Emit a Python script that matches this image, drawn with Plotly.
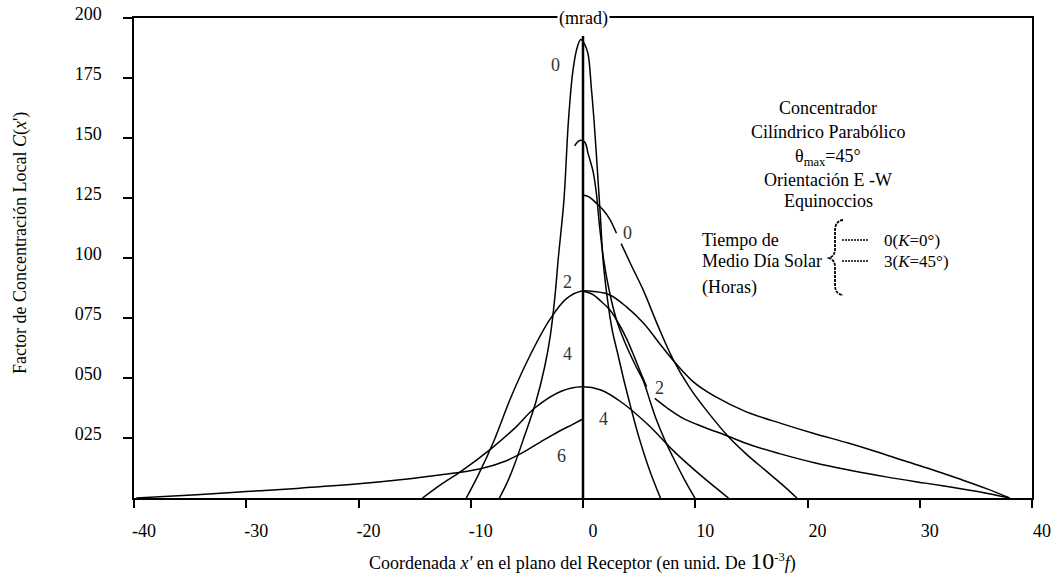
import plotly.graph_objects as go

# ---------------- data ----------------
x_tick_vals = [-40, -30, -20, -10, 0, 10, 20, 30, 40]
x_tick_text = ["-40", "-30", "-20", "-10", "0", "10", "20", "30", "40"]
y_tick_vals = [25, 50, 75, 100, 125, 150, 175, 200]
y_tick_text = ["025", "050", "075", "100", "125", "150", "175", "200"]

# K=0, 0 h (tall peak)
curve_a_x = [-7.45, -6.8, -6.1, -5.2, -4.2, -3.4, -2.9, -2.5, -2.2, -1.7, -1.3, -0.9, -0.5, -0.2,
             0.15, 0.45, 0.74, 0.98, 1.28, 1.57, 1.79, 2.2, 2.6, 3.1, 3.7, 4.3, 5.0, 5.9, 6.9]
curve_a_y = [0, 6, 14, 26, 40, 55, 68, 84, 100, 124, 157, 178, 188, 191,
             189, 185, 171, 157.5, 136.7, 115.8, 99, 82, 70, 60, 48, 37, 25, 12, 0]

# hooked curve peaking at ~149
curve_b_x = [-0.75, -0.45, -0.1, 0.2, 0.45, 0.9, 1.19, 1.48, 1.85, 2.4, 3.0, 3.9, 4.7, 5.36,
             6.0, 6.55, 7.3, 8.0, 9.0, 9.97]
curve_b_y = [146.7, 148.5, 149, 148, 143.6, 136, 127, 113, 99, 85, 74, 63, 55, 49,
             40, 32.5, 24, 17.2, 8, 0]

# right-hand curve starting at ~126 (label "0"), split by the label
curve_c1_x = [0, 0.6, 1.19, 1.8, 2.38, 2.98]
curve_c1_y = [126.25, 125.3, 122.8, 120.0, 116.2, 110.3]
curve_c2_x = [3.4, 4.3, 5.36, 6.7, 8.0, 9.5, 11.0, 12.96, 14.5, 16.2, 17.7, 19.06]
curve_c2_y = [106, 97.0, 86.7, 71.5, 58.0, 46.0, 36.5, 25.5, 18.5, 11.7, 5.8, 0]

# 2 h curve: left side + long upper tail
curve_d_x = [-10.4, -9.4, -7.9, -6.4, -4.62, -2.98, -1.5, -0.1, 1.0, 2.4, 3.9, 5.4, 6.8, 8.0,
             9.8, 11.8, 14.5, 17.7, 20.5, 23.7, 26, 28.4, 31, 33.5, 36, 38]
curve_d_y = [0, 8.9, 24.2, 42.2, 60.3, 74.2, 83, 86.25, 86, 84.6, 79.5, 72.8, 64.5, 57.5,
             48.5, 42.2, 36, 31, 27, 22.8, 19.5, 15.8, 12, 8, 3.8, 0]

# 2 h steeper branch ending at label "2"
curve_d2_x = [-0.1, 0.8, 1.6, 2.4, 3.2, 3.87, 4.6, 5.2, 5.66]
curve_d2_y = [86.25, 85, 82, 78.3, 72.5, 66.5, 58.5, 51.5, 46.4]

# lower long tail after label "2"
curve_t_x = [6.4, 7.5, 9, 10.8, 12.65, 15, 17.5, 20.7, 24, 27, 30.5, 33, 35.5, 38]
curve_t_y = [41.5, 37.5, 33, 29.5, 26.25, 22, 18.5, 14.6, 11.4, 8.8, 6.2, 4.4, 2.4, 0]

# 4 h curve
curve_e_x = [-14.3, -12.7, -10.9, -8.2, -6.1, -4.3, -1.94, -0.1, 1.6, 3.4, 5.8, 8.2, 10.6, 12.96]
curve_e_y = [0, 5.5, 11, 20.5, 29.0, 37.5, 44.5, 46.4, 45, 40.0, 30.5, 19.0, 9, 0]

# 6 h curve (left side only)
curve_f_x = [-39.8, -34.4, -30, -25.5, -20, -16.5, -13.5, -10.9, -8.8, -7, -5.5, -3.8, -2.2, -1, -0.05]
curve_f_y = [0, 1.4, 2.7, 4, 5.9, 7.5, 9.2, 10.7, 12.6, 15.2, 18.6, 23.3, 27.6, 30.5, 32.8]

# receiver centre line
center_x = [0, 0]
center_y = [0, 192.5]

# curve labels
label_x = [-2.45, 3.93, -1.4, -1.4, -1.94, 6.85, 1.84]
label_y = [180.4, 110.3, 90.1, 60, 17.5, 45.7, 32.8]
label_text = ["0", "0", "2", "4", "6", "2", "4"]

# ---------------- figure ----------------
SERIF = "Liberation Serif"
W, H = 1051, 583
ML, MR, MT, MB = 134, 19, 18, 85
PW, PH = W - ML - MR, H - MT - MB


def pxx(px):
    return (px - ML) / PW


def pxy(py):
    return (H - MB - py) / PH


fig = go.Figure()

curves = [
    (curve_a_x, curve_a_y), (curve_b_x, curve_b_y),
    (curve_c1_x, curve_c1_y), (curve_c2_x, curve_c2_y),
    (curve_d_x, curve_d_y), (curve_d2_x, curve_d2_y), (curve_t_x, curve_t_y),
    (curve_e_x, curve_e_y), (curve_f_x, curve_f_y),
]
for xs, ys in curves:
    fig.add_trace(go.Scatter(x=xs, y=ys, mode="lines",
                             line=dict(color="black", width=1.5, shape="spline", smoothing=1.0),
                             showlegend=False, hoverinfo="skip"))

fig.add_trace(go.Scatter(x=center_x, y=center_y, mode="lines",
                         line=dict(color="black", width=2.5),
                         showlegend=False, hoverinfo="skip"))

annotations = []
for lx, ly, lt in zip(label_x, label_y, label_text):
    annotations.append(dict(x=lx, y=ly, xref="x", yref="y", text=lt, showarrow=False,
                            font=dict(family=SERIF, size=18, color="#333")))

annotations.append(dict(x=0, y=1, xref="x", yref="paper", text="(mrad)", showarrow=False,
                        bgcolor="white", xanchor="center", yanchor="middle",
                        font=dict(family=SERIF, size=18, color="black")))

block = [
    ("Concentrador", 108),
    ("Cilíndrico Parabólico", 132),
    ("θ<sub>max</sub>=45°", 157),
    ("Orientación E -W", 180),
    ("Equinoccios", 201),
]
for txt, py in block:
    annotations.append(dict(x=pxx(828), y=pxy(py), xref="paper", yref="paper", text=txt,
                            showarrow=False, xanchor="center", yanchor="middle",
                            font=dict(family=SERIF, size=18, color="black")))

left_block = [("Tiempo de", 240), ("Medio Día Solar", 261), ("(Horas)", 287)]
for txt, py in left_block:
    annotations.append(dict(x=pxx(700), y=pxy(py), xref="paper", yref="paper", text=txt,
                            showarrow=False, xanchor="left", yanchor="middle",
                            font=dict(family=SERIF, size=18, color="black")))

legend_items = [("0(<i>K</i>=0°)", 240), ("3(<i>K</i>=45°)", 261)]
shapes = []
for txt, py in legend_items:
    annotations.append(dict(x=pxx(882), y=pxy(py), xref="paper", yref="paper", text=txt,
                            showarrow=False, xanchor="left", yanchor="middle",
                            font=dict(family=SERIF, size=17, color="black")))
    shapes.append(dict(type="line", xref="paper", yref="paper",
                       x0=pxx(842), x1=pxx(868), y0=pxy(py), y1=pxy(py),
                       line=dict(color="black", width=1.5, dash="2px,1px")))


def P(px, py):
    return f"{pxx(px):.5f},{pxy(py):.5f}"


brace = (f"M {P(843, 220)} Q {P(835, 221)} {P(835, 231)} L {P(835, 249)} "
         f"Q {P(835, 256)} {P(829, 258)} Q {P(835, 260)} {P(835, 267)} "
         f"L {P(835, 285)} Q {P(835, 294)} {P(843, 295)}")
shapes.append(dict(type="path", xref="paper", yref="paper", path=brace,
                   line=dict(color="black", width=1.8, dash="3px,1px")))

annotations.append(dict(x=pxx(20), y=pxy(243), xref="paper", yref="paper",
                        text="Factor de Concentración Local <i>C</i>(<i>x</i>')",
                        textangle=-90, showarrow=False, xanchor="center", yanchor="middle",
                        font=dict(family=SERIF, size=18, color="black")))
annotations.append(dict(x=pxx(582), y=pxy(561), xref="paper", yref="paper",
                        text=("Coordenada <i>x'</i> en el plano del Receptor (en unid. De "
                              "<span style='font-size:24px'>10</span><sup>-3</sup><i>f</i>)"),
                        showarrow=False, xanchor="center", yanchor="middle",
                        font=dict(family=SERIF, size=18, color="black")))

fig.update_layout(
    width=W, height=H,
    margin=dict(l=ML, r=MR, t=MT, b=MB),
    paper_bgcolor="white", plot_bgcolor="white",
    showlegend=False,
    annotations=annotations,
    shapes=shapes,
    xaxis=dict(range=[-40, 40], tickvals=x_tick_vals, ticktext=x_tick_text,
               ticks="outside", ticklen=8, tickwidth=1.5, tickcolor="black",
               showline=True, linecolor="black", linewidth=1.5, mirror=True,
               showgrid=False, zeroline=False, ticklabelshift=10, ticklabelstandoff=8,
               automargin=False,
               tickfont=dict(family=SERIF, size=18, color="black")),
    yaxis=dict(range=[0, 200], tickvals=y_tick_vals, ticktext=y_tick_text,
               ticks="outside", ticklen=9, tickwidth=1.5, tickcolor="black",
               showline=True, linecolor="black", linewidth=1.5, mirror=True,
               showgrid=False, zeroline=False, ticklabelstandoff=18, ticklabelshift=-4,
               automargin=False,
               tickfont=dict(family=SERIF, size=18, color="black")),
)

fig.write_html(
    "out.html",
    config={"displayModeBar": False},
    post_script="document.body.style.margin='0';document.body.style.overflow='hidden';",
)
